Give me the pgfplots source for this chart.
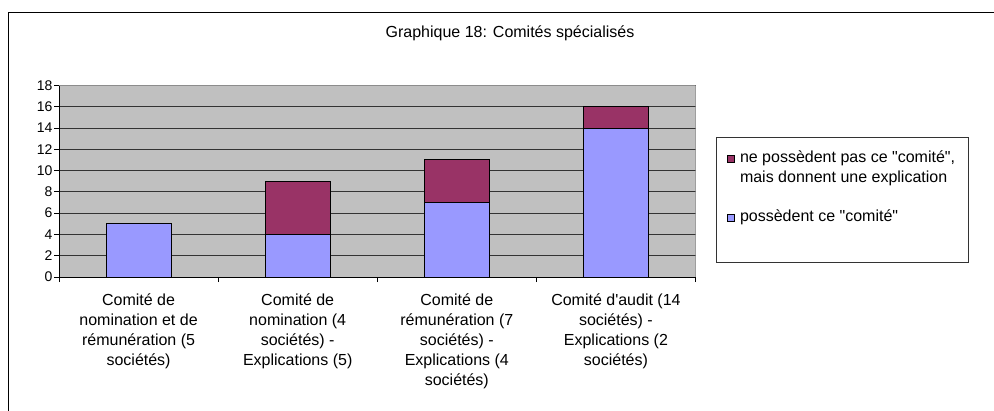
\documentclass[border=0pt]{standalone}
\usepackage{pgfplots}
\pgfplotsset{compat=1.18}
\usepackage{fontspec}
\setmainfont{Liberation Sans}[Ligatures=TeXOff]
\definecolor{barblue}{HTML}{9999FF}
\definecolor{barpurple}{HTML}{993366}
\definecolor{plotgray}{HTML}{C0C0C0}
\definecolor{bordergray}{HTML}{8C8C8C}
\newcommand{\lblfont}{\fontsize{16bp}{20bp}\selectfont}
\newcommand{\legfont}{\fontsize{16bp}{20bp}\selectfont}
\newcommand{\tickfont}{\fontsize{14bp}{16bp}\selectfont}
\begin{document}
\begin{tikzpicture}[x=1bp,y=1bp]
\useasboundingbox (0,0) rectangle (994,410);
\fill[white] (0,0) rectangle (994,410);
\draw[line width=1.2bp] (8.5,-20) -- (8.5,397.5) -- (1020,397.5);
\node[font=\lblfont] at (510,377) {Graphique 18: Comités spécialisés};
\draw[black!80, line width=1bp, fill=white] (716,148) rectangle (968,273);
\begin{axis}[
  at={(59bp,133bp)}, anchor=south west,
  scale only axis, width=636.5bp, height=191.5bp,
  ybar stacked, bar width=65bp,
  xmin=-0.5, xmax=3.5, ymin=0, ymax=18,
  axis x line*=bottom, axis y line*=left,
  axis line style={black, line width=0.9bp},
  axis background/.style={fill=plotgray},
  ytick={0,2,...,18},
  ymajorgrids,
  grid style={black!80, line width=0.8bp},
  tick align=outside,
  major tick length=5bp,
  tick style={black, line width=0.8bp},
  xtick={-0.5,0.5,1.5,2.5,3.5},
  xticklabels={},
  extra x ticks={0,1,2,3},
  extra x tick labels={{Comité de\\nomination et de\\rémunération (5\\sociétés)},
    {Comité de\\nomination (4\\sociétés) -\\Explications (5)},
    {Comité de\\rémunération (7\\sociétés) -\\Explications (4\\sociétés)},
    {Comité d'audit (14\\sociétés) -\\Explications (2\\sociétés)}},
  extra x tick style={major tick length=0pt, grid=none},
  x tick label style={font=\lblfont, align=center, yshift=-13bp},
  y tick label style={font=\tickfont, xshift=2bp},
  /pgf/number format/assume math mode=true,
  every axis plot/.append style={draw=black, line width=1bp},
  reverse legend,
  legend cell align=left,
  legend style={draw=none, fill=none, font=\legfont,
    at={(1.0448,0.683)}, anchor=north west,
    nodes={align=left}, row sep=22bp, column sep=3bp,
    inner xsep=3bp, inner ysep=2bp},
]
\addplot[fill=barblue,
  legend image code/.code={\draw[fill=barblue, draw=black, line width=0.8bp] (0bp,-5.5bp) rectangle (7bp,1.5bp);}]
  coordinates {(0,5) (1,4) (2,7) (3,14)};
\addlegendentry{possèdent ce "comité"}
\addplot[fill=barpurple,
  legend image code/.code={\draw[fill=barpurple, draw=black, line width=0.8bp] (0bp,4.5bp) rectangle (7bp,11.5bp);}]
  coordinates {(0,0) (1,5) (2,4) (3,2)};
\addlegendentry{ne possèdent pas ce "comité",\\mais donnent une explication}
\draw[bordergray, line width=1bp] (rel axis cs:0,1) -- (rel axis cs:1,1) -- (rel axis cs:1,0);
\end{axis}
\end{tikzpicture}
\end{document}
